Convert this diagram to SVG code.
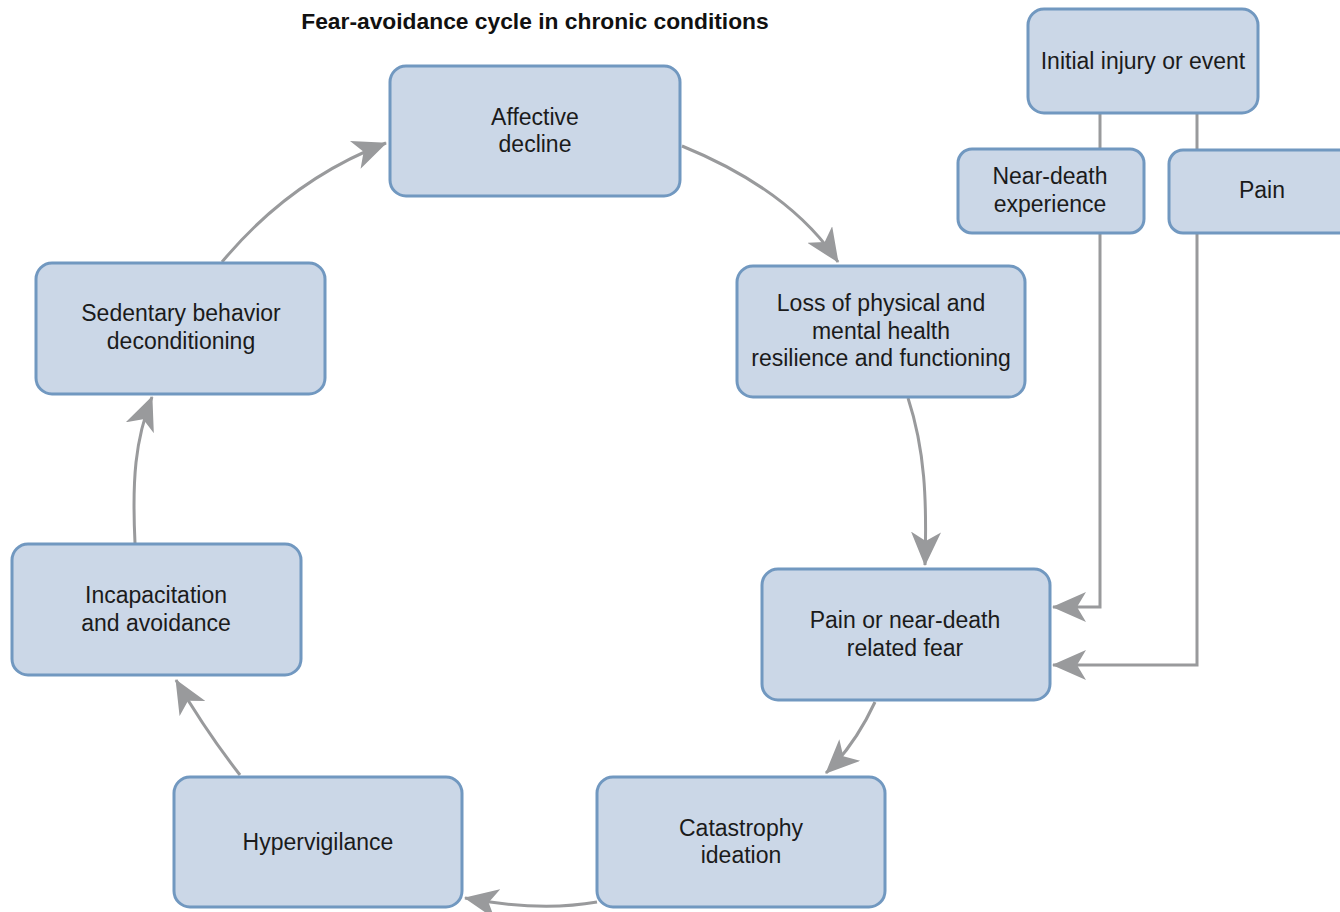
<svg xmlns="http://www.w3.org/2000/svg" width="1340" height="912" viewBox="0 0 1340 912">
<style>
.box{fill:#cbd7e7;stroke:#7198c0;stroke-width:3}
.t{font-family:"Liberation Sans",Arial,sans-serif;font-size:23px;fill:#1b1b1b;text-anchor:middle}
.title{font-family:"Liberation Sans",Arial,sans-serif;font-size:22.8px;font-weight:bold;fill:#111;text-anchor:middle}
.c{fill:none;stroke:#999a9c;stroke-width:3}
</style>
<defs>
<marker id="ah" markerUnits="userSpaceOnUse" markerWidth="34" markerHeight="30" refX="33" refY="15" orient="auto">
<path d="M0,0 L34,15 L0,30 L9,15 z" fill="#999a9c"/>
</marker>
</defs>
<text class="title" x="535" y="29">Fear-avoidance cycle in chronic conditions</text>
<g id="connectors">
<path class="c" d="M682,146 Q790,190 838,262" marker-end="url(#ah)"/>
<path class="c" d="M908,398 C925,450 927,500 925,565" marker-end="url(#ah)"/>
<path class="c" d="M875,702 Q855,745 826,773" marker-end="url(#ah)"/>
<path class="c" d="M597,902 Q540,912 465,898" marker-end="url(#ah)"/>
<path class="c" d="M240,775 Q205,730 176,680" marker-end="url(#ah)"/>
<path class="c" d="M135,543 C132,480 135,440 152,397" marker-end="url(#ah)"/>
<path class="c" d="M222,262 Q290,180 386,143" marker-end="url(#ah)"/>
<path class="c" d="M1100,113 V149"/>
<path class="c" d="M1197,113 V150"/>
<path class="c" d="M1100,233 V607 H1053" marker-end="url(#ah)"/>
<path class="c" d="M1197,233 V665 H1053" marker-end="url(#ah)"/>
</g>
<g id="affective">
<rect class="box" x="390" y="66" width="290" height="130" rx="16"/>
<text class="t" x="535" y="125">Affective</text>
<text class="t" x="535" y="152">decline</text>
</g>
<g id="loss">
<rect class="box" x="737" y="266" width="288" height="131" rx="16"/>
<text class="t" x="881" y="311">Loss of physical and</text>
<text class="t" x="881" y="339">mental health</text>
<text class="t" x="881" y="366">resilience and functioning</text>
</g>
<g id="fear">
<rect class="box" x="762" y="569" width="288" height="131" rx="16"/>
<text class="t" x="905" y="628">Pain or near-death</text>
<text class="t" x="905" y="656">related fear</text>
</g>
<g id="catastrophy">
<rect class="box" x="597" y="777" width="288" height="130" rx="16"/>
<text class="t" x="741" y="836">Catastrophy</text>
<text class="t" x="741" y="863">ideation</text>
</g>
<g id="hypervigilance">
<rect class="box" x="174" y="777" width="288" height="130" rx="16"/>
<text class="t" x="318" y="850">Hypervigilance</text>
</g>
<g id="incapacitation">
<rect class="box" x="12" y="544" width="289" height="131" rx="16"/>
<text class="t" x="156" y="603">Incapacitation</text>
<text class="t" x="156" y="631">and avoidance</text>
</g>
<g id="sedentary">
<rect class="box" x="36" y="263" width="289" height="131" rx="16"/>
<text class="t" x="181" y="321">Sedentary behavior</text>
<text class="t" x="181" y="349">deconditioning</text>
</g>
<g id="initial">
<rect class="box" x="1028" y="9" width="230" height="104" rx="16"/>
<text class="t" x="1143" y="69">Initial injury or event</text>
</g>
<g id="neardeath">
<rect class="box" x="958" y="149" width="186" height="84" rx="14"/>
<text class="t" x="1050" y="184">Near-death</text>
<text class="t" x="1050" y="212">experience</text>
</g>
<g id="pain">
<rect class="box" x="1169" y="150" width="190" height="83" rx="14"/>
<text class="t" x="1262" y="198">Pain</text>
</g>
</svg>
